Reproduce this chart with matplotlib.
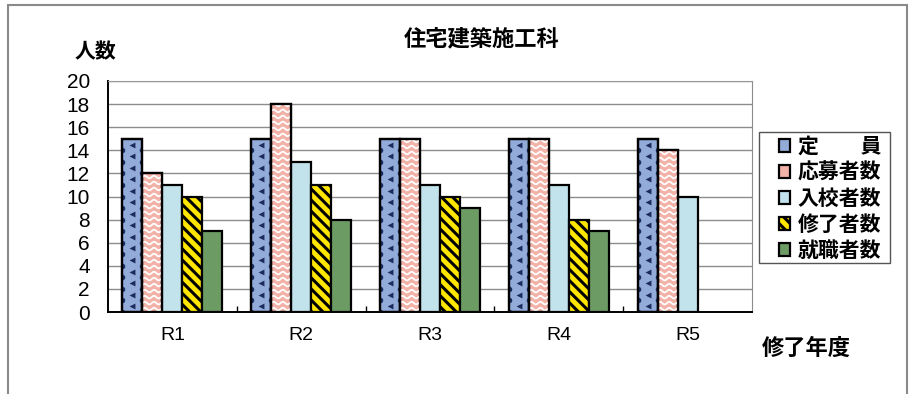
import numpy as np
import matplotlib
matplotlib.use("Agg")
import matplotlib.pyplot as plt
from matplotlib.patches import Rectangle

plt.rcParams['hatch.linewidth'] = 2.2
JP = ['Noto Sans CJK JP', 'DejaVu Sans']
NUM = ['Liberation Sans Narrow', 'Liberation Sans', 'DejaVu Sans']

# 住宅建築施工科 の年度別人数
years = ['R1', 'R2', 'R3', 'R4', 'R5']
series_names = ['定\u3000\u3000員', '応募者数', '入校者数', '修了者数', '就職者数']
teiin = [15, 15, 15, 15, 15]
oubo = [12, 18, 15, 15, 14]
nyuko = [11, 13, 11, 11, 10]
shuryo = [10, 11, 10, 8, np.nan]
shushoku = [7, 8, 9, 7, np.nan]

colors = ['#92abd9', '#f3b2a8', '#c2e3eb', '#ffe600', '#6c9c64']
hatches = [None, None, None, '\\\\\\', None]

fig = plt.figure(figsize=(9.15, 3.94), dpi=100)
ax = fig.add_axes([108 / 915, 1 - 312 / 394, 644 / 915, 231 / 394])

x = np.arange(len(years))
width = 0.155
containers = []
for i, vals in enumerate([teiin, oubo, nyuko, shuryo, shushoku]):
    bc = ax.bar(x + (i - 2) * width, vals, width, color=colors[i],
                edgecolor='black', linewidth=1.6, hatch=hatches[i], zorder=2,
                label=series_names[i])
    containers.append(bc)


def draw_waves(rect):
    x0, w, h = rect.get_x(), rect.get_width(), rect.get_height()
    xs = np.linspace(x0, x0 + w, 80)
    for y0 in np.arange(0.25, h, 0.52):
        ys = y0 + 0.11 * np.sin(2 * np.pi * (xs - x0) / 0.072)
        ln, = ax.plot(xs, ys, color='white', lw=1.3, zorder=2.5)
        ln.set_clip_path(rect)


def draw_chevrons(rect):
    x0, w, h = rect.get_x(), rect.get_width(), rect.get_height()
    ys = np.arange(0.5, h, 1.0)
    sc = ax.scatter(np.full(ys.shape, x0 + w / 2), ys, marker='<', s=18,
                    color='#1c2b5e', zorder=2.5, linewidths=0)
    sc.set_clip_path(rect)
    ye = np.arange(0.0, h, 1.0)
    for xe in (x0, x0 + w):
        dots = ax.scatter(np.full(ye.shape, xe), ye, marker='o', s=16,
                          color='#1c2b5e', zorder=2.5, linewidths=0)
        dots.set_clip_path(rect)


for r in containers[0]:
    draw_chevrons(r)
for r in containers[1]:
    draw_waves(r)

# outlines on top of the fill patterns
for i, vals in enumerate([teiin, oubo]):
    ax.bar(x + (i - 2) * width, vals, width, fill=False,
           edgecolor='black', linewidth=1.6, zorder=3)

ax.set_xlim(-0.5, 4.5)
ax.set_ylim(0, 20)
ax.set_yticks(np.arange(0, 21, 2))
ax.yaxis.grid(True, color='#8c8c8c', lw=1.0)
ax.set_axisbelow(True)
ax.tick_params(axis='y', length=0, pad=13, labelsize=15)
ax.set_xticks(x)
ax.set_xticklabels(years)
ax.set_xticks(x[:-1] + 0.5, minor=True)
ax.tick_params(axis='x', which='major', length=0, pad=11, labelsize=14)
ax.tick_params(axis='x', which='minor', length=4, direction='in', width=1)
for lab in ax.get_yticklabels() + ax.get_xticklabels():
    lab.set_family(NUM)
for s in ('left', 'bottom'):
    ax.spines[s].set_color('black')
    ax.spines[s].set_linewidth(1.4)
ax.spines['top'].set_color('#9a9a9a')
ax.spines['top'].set_linestyle((0, (2, 1)))
ax.spines['right'].set_color('#8c8c8c')

fig.text(482 / 915, 1 - 40 / 394, '住宅建築施工科', family=JP, fontsize=16,
         fontweight='bold', ha='center', va='center')
fig.text(95 / 915, 1 - 52 / 394, '人数', family=JP, fontsize=15,
         fontweight='bold', ha='center', va='center')
fig.text(806 / 915, 1 - 348 / 394, '修了年度', family=JP, fontsize=16,
         fontweight='bold', ha='center', va='center')

# legend entries without their own frame; the box is drawn separately
leg = fig.legend(handles=containers, loc='upper left',
                 bbox_to_anchor=(779 / 915, 1 - 136 / 394),
                 prop={'family': JP, 'size': 15, 'weight': 'bold'},
                 frameon=False, handlelength=0.55, handleheight=0.55,
                 handletextpad=0.35, labelspacing=0.24, borderpad=0,
                 borderaxespad=0)
fig.patches.append(Rectangle((759 / 915, 1 - 263 / 394), 131 / 915, 131 / 394,
                             transform=fig.transFigure, fill=False,
                             edgecolor='#555555', lw=1.0))

# outer border of the chart area
fig.patches.append(Rectangle((8 / 915, -0.1), 899 / 915, 1.1 - 5 / 394,
                             transform=fig.transFigure, fill=False,
                             edgecolor='#8a8a8a', lw=1.5))

fig.savefig('out.png', dpi=100)
